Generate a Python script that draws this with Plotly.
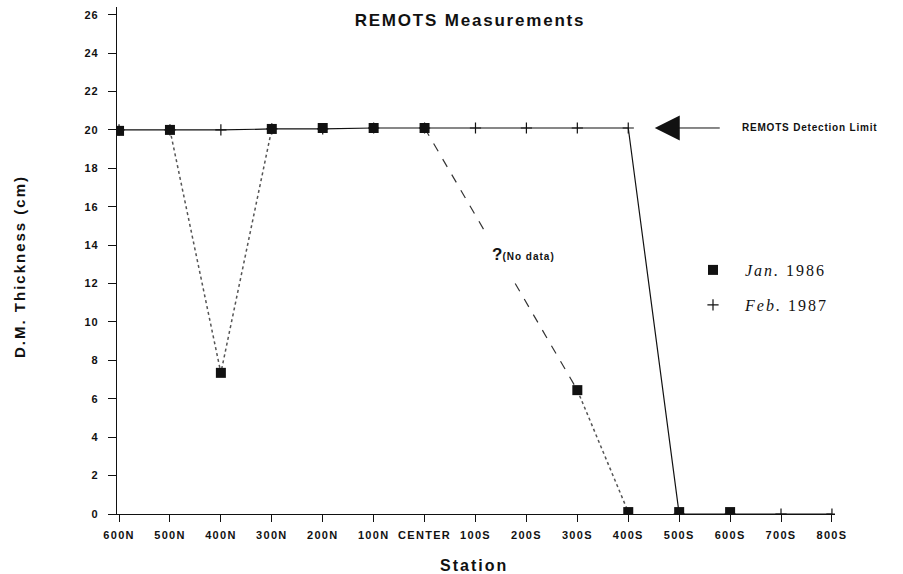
import plotly.graph_objects as go

stations = ["600N", "500N", "400N", "300N", "200N", "100N", "CENTER",
            "100S", "200S", "300S", "400S", "500S", "600S", "700S", "800S"]
jan_1986 = [19.95, 20.0, 7.35, 20.05, 20.1, 20.1, 20.1,
            None, None, 6.45, 0.1, 0.1, 0.1, None, None]
feb_1987 = [20.0, 20.0, 20.0, 20.05, 20.05, 20.1, 20.1,
            20.1, 20.1, 20.1, 20.1, 0.0, 0.0, 0.0, 0.0]
y_ticks = list(range(0, 27, 2))

xi = list(range(len(stations)))
FONT = "Liberation Sans, Arial, sans-serif"
SERIF = "Liberation Serif, DejaVu Serif, serif"

def sp(text, ls):
    return "<span style='letter-spacing:%spx'>%s</span>" % (ls, text)

fig = go.Figure()

# Feb 1987 solid line
fig.add_trace(go.Scatter(x=xi, y=feb_1987, mode="lines",
                         line=dict(color="#111", width=1.2), showlegend=False,
                         hoverinfo="skip"))

# Jan 1986 dotted segments 500N-400N-300N
seg1 = [1, 2, 3]
fig.add_trace(go.Scatter(x=[xi[i] for i in seg1], y=[jan_1986[i] for i in seg1],
                         mode="lines", line=dict(color="#555", width=1.5, dash="dot"),
                         showlegend=False))
# dashed CENTER -> 300S (no data)
seg2 = [6, 9]
fig.add_trace(go.Scatter(x=[xi[i] for i in seg2], y=[jan_1986[i] for i in seg2],
                         mode="lines", line=dict(color="#333", width=1.2, dash="dash"),
                         showlegend=False))
# dotted 300S -> 400S
seg3 = [9, 10]
fig.add_trace(go.Scatter(x=[xi[i] for i in seg3], y=[jan_1986[i] for i in seg3],
                         mode="lines", line=dict(color="#555", width=1.5, dash="dot"),
                         showlegend=False))

# Feb 1987 markers
fig.add_trace(go.Scatter(x=xi, y=feb_1987, mode="markers",
                         name="&nbsp;" + sp("<i>Feb.</i> 1987", 2),
                         marker=dict(symbol="cross-thin", size=8,
                                     line=dict(color="#111", width=1.2)),
                         legend="legend2"))
# Jan 1986 markers
fig.add_trace(go.Scatter(x=xi, y=jan_1986, mode="markers",
                         name="&nbsp;" + sp("<i>Jan.</i> 1986", 2),
                         marker=dict(symbol="square", size=10, color="#111"),
                         legend="legend"))

W, H = 903, 574
PL, PR, PT, PB = 117, 835, 7, 514          # plot area in page pixels
L, R, T, B = PL, W - PR, PT, H - PB
pw, ph = W - L - R, H - T - B

def px_x(p):
    return (p - L) / pw

def px_y(p):
    return (H - B - p) / ph

fig.update_layout(
    width=W, height=H,
    margin=dict(l=L, r=R, t=T, b=B, autoexpand=False),
    paper_bgcolor="white", plot_bgcolor="white",
    font=dict(family=FONT, color="#111"),
    title=dict(text="<b>%s</b>" % sp("REMOTS Measurements", 1.8),
               x=470 / W, xanchor="center",
               y=1 - 20 / H, yanchor="middle",
               font=dict(size=17, family=FONT, color="#111")),
    xaxis=dict(range=[-0.04, 14.06], tickvals=xi,
               ticktext=["<b>%s</b>" % sp(s, 1.3) for s in stations],
               tickfont=dict(size=11, family=FONT, color="#111"),
               ticks="outside", ticklen=7, tickcolor="#111", tickwidth=1,
               ticklabelstandoff=4,
               showline=True, linecolor="#111", linewidth=1.2,
               showgrid=False, zeroline=False),
    yaxis=dict(range=[0, 26.4], tickvals=y_ticks,
               ticktext=["<b>%s</b>" % sp(str(v), 1) for v in y_ticks],
               tickfont=dict(size=11, family=FONT, color="#111"),
               ticks="outside", ticklen=8, tickcolor="#111", tickwidth=1,
               ticklabelstandoff=7,
               showline=True, linecolor="#111", linewidth=1.2,
               showgrid=False, zeroline=False),
    legend=dict(x=px_x(685), y=px_y(270), xanchor="left", yanchor="middle",
                itemwidth=46,
                font=dict(size=16, family=SERIF, color="#111"),
                bgcolor="rgba(0,0,0,0)"),
    legend2=dict(x=px_x(685), y=px_y(305), xanchor="left", yanchor="middle",
                 itemwidth=46,
                 font=dict(size=16, family=SERIF, color="#111"),
                 bgcolor="rgba(0,0,0,0)"),
    annotations=[
        dict(text="<b>%s</b>" % sp("D.M. Thickness (cm)", 2), xref="paper", yref="paper",
             x=px_x(19), y=px_y(267), xanchor="center", yanchor="middle",
             textangle=-90, showarrow=False,
             font=dict(size=15, family=FONT, color="#111")),
        dict(text="<b>%s</b>" % sp("Station", 2), xref="paper", yref="paper",
             x=px_x(474), y=px_y(565), xanchor="center", yanchor="middle",
             showarrow=False,
             font=dict(size=16, family=FONT, color="#111")),
        dict(text="<b><span style='font-size:17px'>?</span></b><b>%s</b>" % sp("(No data)", 1),
             x=7.02, y=13.5, xref="x", yref="y", xanchor="left", yanchor="middle",
             showarrow=False, bgcolor="white", borderpad=14,
             font=dict(size=10, family=FONT, color="#111")),
        dict(text="<b>%s</b>" % sp("REMOTS Detection Limit", 0.8),
             x=10.52, y=20.1, xref="x", yref="y",
             ax=85, ay=0, xanchor="left", yanchor="middle",
             showarrow=True, arrowhead=2, arrowsize=5, arrowwidth=1,
             arrowcolor="#111", standoff=0, startstandoff=20,
             font=dict(size=10, family=FONT, color="#111")),
    ],
)

fig.write_html("out.html", config={"displayModeBar": False},
               post_script="document.body.style.margin='0';"
                           "document.documentElement.style.overflow='hidden';")
